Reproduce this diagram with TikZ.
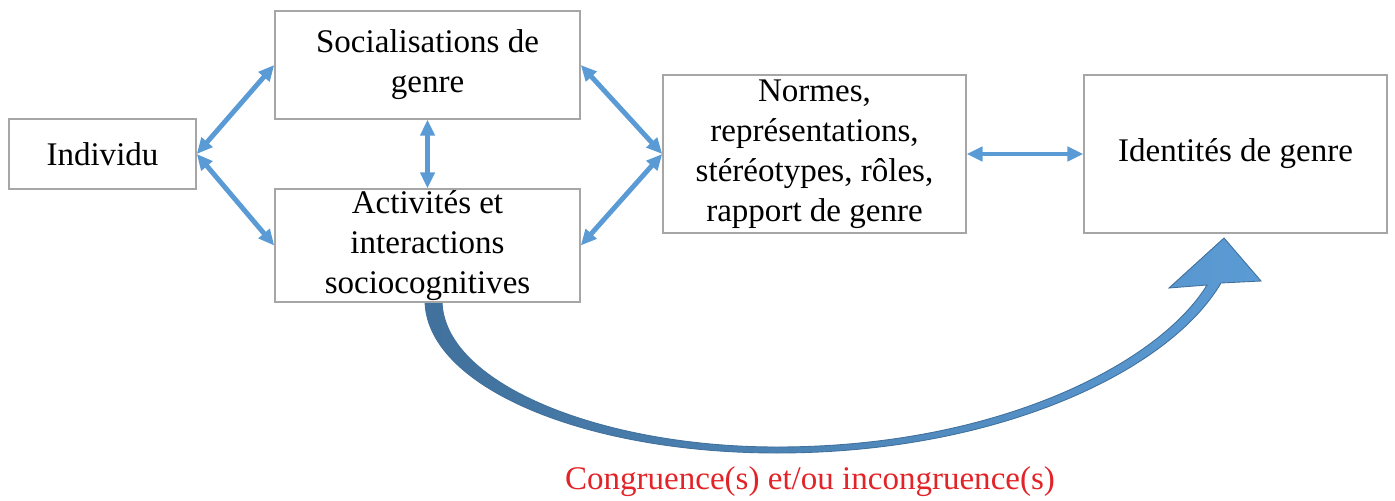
\documentclass[tikz,border=0pt]{standalone}
\usepackage{fontspec}
\setmainfont{Liberation Serif}
\usetikzlibrary{arrows.meta}
\definecolor{boxgray}{RGB}{166,166,166}
\definecolor{arrowblue}{RGB}{91,155,213}
\definecolor{darkblue}{RGB}{65,113,156}
\definecolor{congred}{RGB}{226,36,40}

\begin{document}
\begin{tikzpicture}[x=0.02cm,y=-0.02cm]
\tikzstyle{every node}+=[inner sep=0pt, align=center, font=\fontsize{18.8}{22.8}\selectfont]
\tikzstyle{box}=[draw=boxgray, line width=0.9pt, fill=white]
\tikzstyle{link}=[arrowblue, line width=2.8pt, {Triangle[length=9pt,width=8pt]}-{Triangle[length=9pt,width=8pt]}]
\useasboundingbox (0,0) rectangle (1395,500);
% big curved arrow
\draw [left color=darkblue, right color=arrowblue, draw=darkblue, line width=0.5pt] (425,300) .. controls (425,386) and (583,453) .. (777,453) .. controls (1000,453) and (1170,370) .. (1221,283) -- (1261,281) -- (1224,238) -- (1169,288) -- (1207,285) .. controls (1160,362) and (1000,447) .. (777,447) .. controls (600,447) and (442,383) .. (442,300) -- cycle;
% boxes
\node [box, minimum width=3.74cm, minimum height=1.4cm] (ind) at (102.5,154) {Individu};
\node [box, minimum width=6.1cm, minimum height=2.16cm] (soc) at (427.5,65) {Socialisations de\\genre};
\node [box, minimum width=6.1cm, minimum height=2.26cm] (act) at (427.5,245.5) {Activités et\\interactions\\sociocognitives};
\node [box, minimum width=6.06cm, minimum height=3.16cm] (nor) at (814.5,154) {Normes,\\représentations,\\stéréotypes, rôles,\\rapport de genre};
\node [box, minimum width=6.06cm, minimum height=3.16cm] (ide) at (1235.5,154) {Identités de genre};
\node [text=congred] (cong) at (810,482) {Congruence(s) et/ou incongruence(s)};
% links
\draw [link] (ind.east) -- (soc.west);
\draw [link] (ind.east) -- (act.west);
\draw [link] (soc.south) -- (act.north);
\draw [link] (soc.east) -- (nor.west);
\draw [link] (act.east) -- (nor.west);
\draw [link] (nor.east) -- (ide.west);
\end{tikzpicture}
\end{document}
